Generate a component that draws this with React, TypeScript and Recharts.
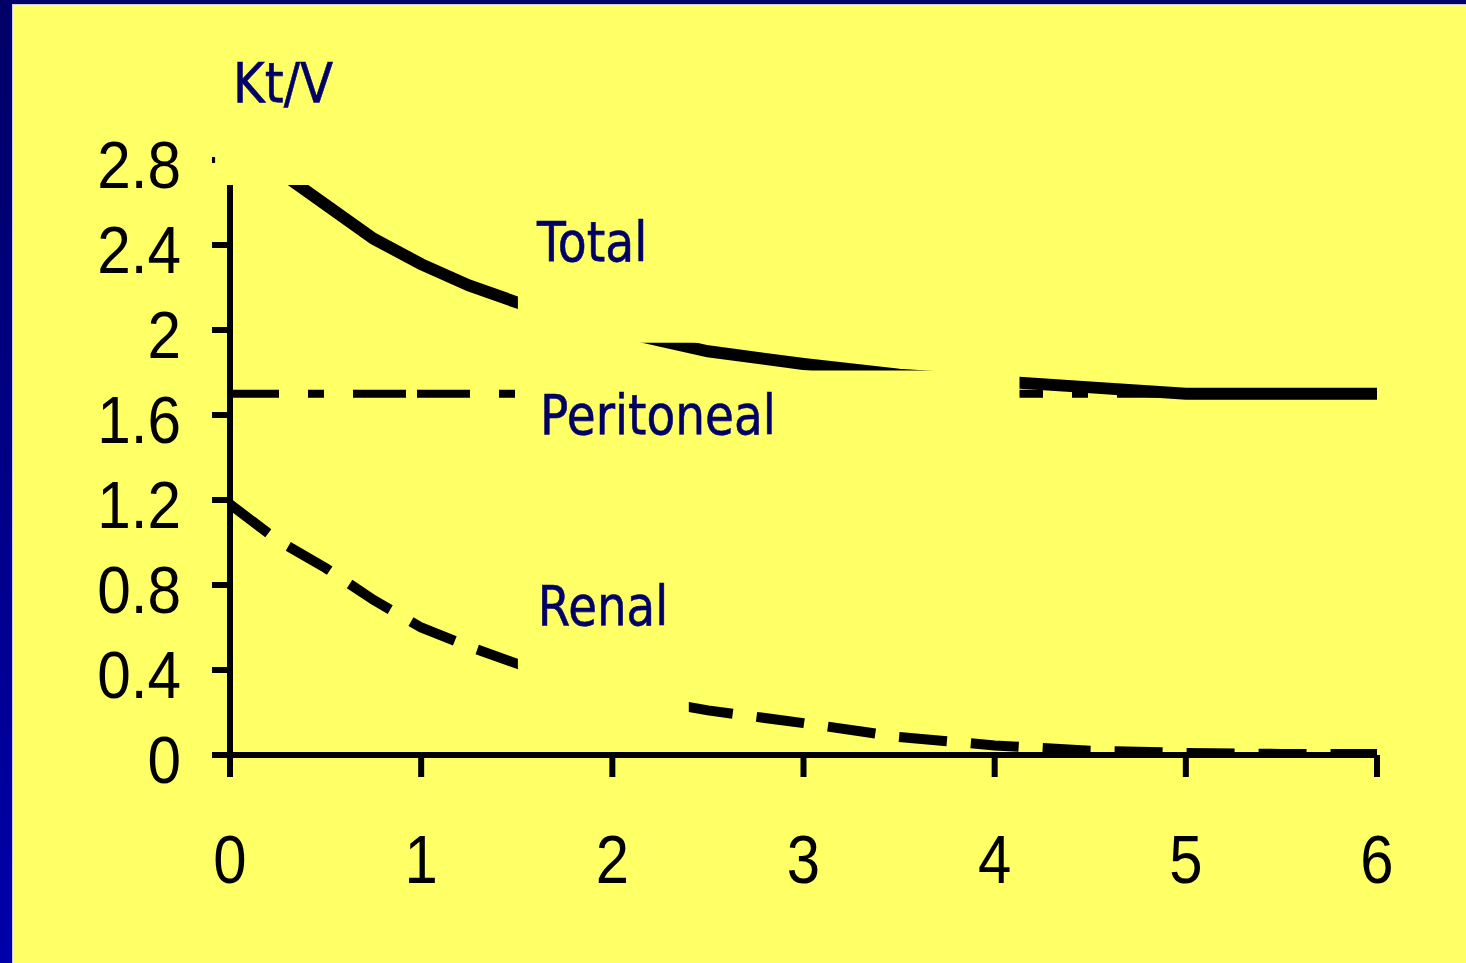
import { LineChart, Line, XAxis, YAxis, ReferenceArea, ReferenceDot } from 'recharts'

// years on dialysis
const years = [0, 0.25, 0.5, 0.75, 1, 1.25, 1.5, 1.75, 2, 2.25, 2.5, 3, 3.5, 4, 4.5, 5, 5.5, 6]
const totalKtV = [2.9, 2.75, 2.59, 2.43, 2.31, 2.21, 2.13, 2.06, 2.0, 1.95, 1.9, 1.84, 1.79, 1.76, 1.73, 1.7, 1.7, 1.7]
const peritonealKtV = [1.7, 1.7, 1.7, 1.7, 1.7, 1.7, 1.7, 1.7, 1.7, 1.7, 1.7, 1.7, 1.7, 1.7, 1.7, 1.7, 1.7, 1.7]
const renalKtV = [1.18, 1.01, 0.88, 0.73, 0.6, 0.51, 0.43, 0.36, 0.3, 0.25, 0.21, 0.15, 0.085, 0.045, 0.02, 0.01, 0.005, 0.005]
const xTicks = [0, 1, 2, 3, 4, 5, 6]
const yTicks = [0, 0.4, 0.8, 1.2, 1.6, 2, 2.4, 2.8]

const data = years.map((t, i) => ({
  t,
  total: totalKtV[i],
  peritoneal: peritonealKtV[i],
  renal: renalKtV[i]
}))

const YELLOW = '#ffff66'
const NAVY = '#000066'

const YTick = ({ x, y, payload }: any) => (
  <g transform={`translate(${x - 31},${y + 28})`}>
    <text transform="scale(0.9,1)" textAnchor="end" fontFamily="'Liberation Sans', Arial" fontSize={67} fill="#000">
      {payload.value}
    </text>
  </g>
)

const XTick = ({ x, y, payload }: any) => (
  <g transform={`translate(${x},${y + 106})`}>
    <text transform="scale(0.88,1)" textAnchor="middle" fontFamily="'Liberation Sans', Arial" fontSize={68} fill="#000">
      {payload.value}
    </text>
  </g>
)

const note = (label: string, sx: number) => (p: any) => (
  <g transform={`translate(${p.cx},${p.cy})`}>
    <text transform={`scale(${sx},1)`} fontFamily="'DejaVu Sans', Tahoma, sans-serif" fontSize={55} fill={NAVY} stroke={NAVY} strokeWidth={0.6}>
      {label}
    </text>
  </g>
)

export default function App() {
  return (
    <div style={{ position: 'fixed', left: 0, top: 0, width: 1466, height: 963, background: 'linear-gradient(to bottom, #000066, #0000aa)' }}>
      <div style={{ position: 'absolute', left: 12, top: 4, right: 0, bottom: 0, background: YELLOW, borderTop: '1px solid #ccccff', borderLeft: '1px solid #ccccff' }} />
      <div style={{ position: 'absolute', left: 0, top: 0 }}>
        <LineChart width={1466} height={963} data={data} margin={{ top: 160, right: 89, bottom: 0, left: 0 }}>
          <XAxis
            dataKey="t"
            type="number"
            domain={[0, 6]}
            ticks={xTicks}
            height={208}
            axisLine={{ stroke: '#000', strokeWidth: 6 }}
            tickLine={{ stroke: '#000', strokeWidth: 6 }}
            tickSize={22}
            tickMargin={0}
            tick={<XTick />}
          />
          <YAxis
            type="number"
            domain={[0, 2.8]}
            allowDataOverflow
            ticks={yTicks}
            width={230}
            axisLine={{ stroke: '#000', strokeWidth: 6 }}
            tickLine={{ stroke: '#000', strokeWidth: 6 }}
            tickSize={18}
            tickMargin={0}
            tick={<YTick />}
          />
          <Line dataKey="peritoneal" type="linear" stroke="#000" strokeWidth={8} strokeDasharray="53 29 16 29 53 11" strokeDashoffset={4} dot={false} activeDot={false} isAnimationActive={false} />
          <Line dataKey="renal" type="linear" stroke="#000" strokeWidth={10} strokeDasharray="48 24" dot={false} activeDot={false} isAnimationActive={false} />
          <Line dataKey="total" type="linear" stroke="#000" strokeWidth={12} dot={false} activeDot={false} isAnimationActive={false} />

          {/* yellow text boxes from the slide that cover the curves */}
          <ReferenceArea x1={-0.078} x2={1.0} y1={2.682} y2={3.3} fill={YELLOW} fillOpacity={1} stroke="none" ifOverflow="visible" zIndex={2500} />
          <ReferenceArea x1={1.506} x2={2.5} y1={1.94} y2={2.68} fill={YELLOW} fillOpacity={1} stroke="none" ifOverflow="visible" zIndex={2500} />
          <ReferenceArea x1={1.506} x2={4.13} y1={1.4} y2={1.81} fill={YELLOW} fillOpacity={1} stroke="none" ifOverflow="visible" zIndex={2500} />
          <ReferenceArea x1={1.506} x2={2.4} y1={0.12} y2={0.9} fill={YELLOW} fillOpacity={1} stroke="none" ifOverflow="visible" zIndex={2500} />

          <ReferenceDot x={0.016} y={3.073} r={0} ifOverflow="visible" shape={note('Kt/V', 0.88)} zIndex={3000} />
          <ReferenceDot x={1.606} y={2.325} r={0} ifOverflow="visible" shape={note('Total', 0.86)} zIndex={3000} />
          <ReferenceDot x={1.622} y={1.511} r={0} ifOverflow="visible" shape={note('Peritoneal', 0.855)} zIndex={3000} />
          <ReferenceDot x={1.61} y={0.612} r={0} ifOverflow="visible" shape={note('Renal', 0.85)} zIndex={3000} />
        </LineChart>
      </div>
    </div>
  )
}
